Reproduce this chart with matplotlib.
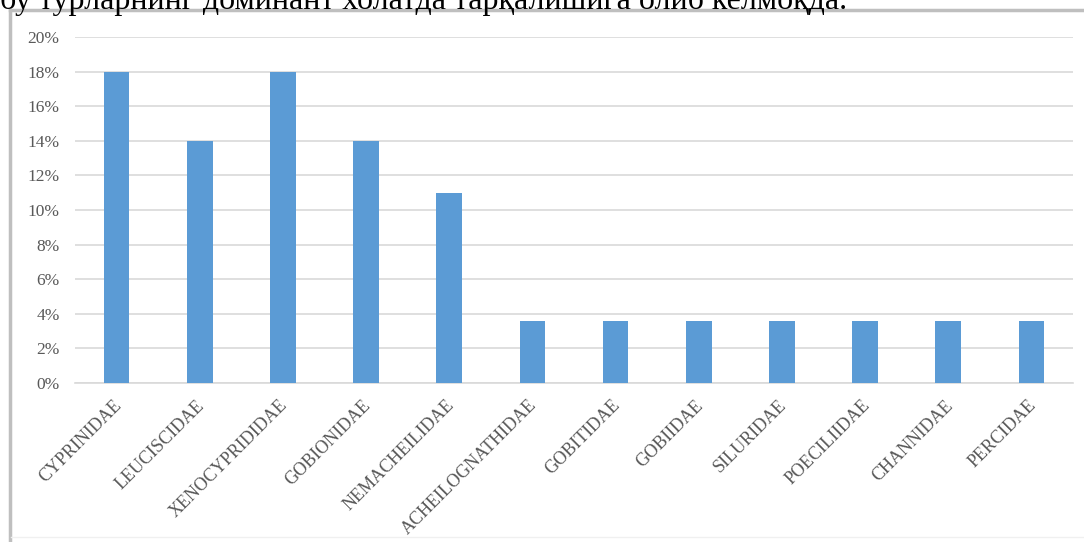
import numpy as np
import matplotlib
matplotlib.use('agg')
import matplotlib.pyplot as plt
from matplotlib.lines import Line2D
from matplotlib.ticker import PercentFormatter
from matplotlib.transforms import ScaledTranslation

# fish families and their share of the catch
families = ['CYPRINIDAE', 'LEUCISCIDAE', 'XENOCYPRIDIDAE', 'GOBIONIDAE',
            'NEMACHEILIDAE', 'ACHEILOGNATHIDAE', 'GOBITIDAE', 'GOBIIDAE',
            'SILURIDAE', 'POECILIIDAE', 'CHANNIDAE', 'PERCIDAE']
shares = [0.18, 0.14, 0.18, 0.14, 0.11, 0.036, 0.036, 0.036,
          0.036, 0.036, 0.036, 0.036]
yticks = [0.00, 0.02, 0.04, 0.06, 0.08, 0.10, 0.12, 0.14, 0.16, 0.18, 0.20]
caption = 'бу турларнинг доминант холатда тарқалишига олиб келмоқда.'

plt.rcParams['font.family'] = ['Liberation Serif', 'DejaVu Serif']

fig = plt.figure(figsize=(10.84, 5.42), dpi=100)
ax = fig.add_axes([75/1084, 1 - 383/542, (1073 - 75)/1084, (383 - 37)/542])

x = np.arange(len(families))
ax.bar(x, shares, width=0.31, color='#5b9bd5', zorder=3)

ax.set_xlim(-0.5, len(families) - 0.5)
ax.set_ylim(0, 0.20)
ax.set_yticks(yticks)
ax.yaxis.set_major_formatter(PercentFormatter(1.0, decimals=0))
ax.grid(axis='y', color='#d9d9d9', linewidth=1.2, zorder=0)
for s in ['top', 'right', 'left']:
    ax.spines[s].set_visible(False)
ax.spines['bottom'].set_color('#d9d9d9')
ax.spines['bottom'].set_linewidth(1.2)
ax.tick_params(axis='y', length=0, colors='#595959', labelsize=12.5, pad=11)

ax.set_xticks(x)
ax.set_xticklabels(families, rotation=45, ha='right', rotation_mode='anchor')
ax.tick_params(axis='x', length=0, colors='#595959', labelsize=13, pad=10)
# nudge the slanted names a little to the left
shift = ScaledTranslation(-4/100, 0, fig.dpi_scale_trans)
for lab in ax.get_xticklabels():
    lab.set_transform(lab.get_transform() + shift)

# frame around the chart
fig.add_artist(Line2D([9.5/1084, 9.5/1084], [0, 1 - 9.5/542],
                      color='#bfbfbf', linewidth=2.5, transform=fig.transFigure))
fig.add_artist(Line2D([9.5/1084, 1], [1 - 9.5/542, 1 - 9.5/542],
                      color='#bfbfbf', linewidth=2.5, transform=fig.transFigure))
fig.add_artist(Line2D([11/1084, 1], [1 - 537/542, 1 - 537/542],
                      color='#f0f0f0', linewidth=1.0, transform=fig.transFigure))

# sentence above the chart, cut by the page edge
fig.text(0.0, 1 - 9/542, caption, fontsize=23, color='black',
         ha='left', va='baseline')

fig.savefig('out.png', dpi=100, facecolor='white')
